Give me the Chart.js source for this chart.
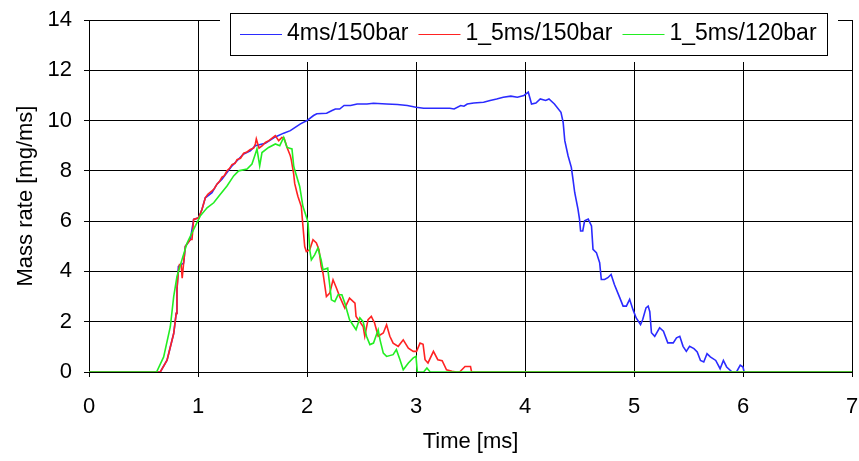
<!DOCTYPE html>
<html lang="en">
<head>
  <meta charset="UTF-8" />
  <title>Mass rate</title>
  <script src="https://cdn.jsdelivr.net/npm/chart.js"></script>
  <style>
    html, body { margin: 0; padding: 0; background: #fff; }
    #wrap { width: 859px; height: 461px; }
  </style>
</head>
<body>
<div id="wrap"><canvas id="rateChart" width="859" height="461"></canvas></div>
<script>
  const seriesNames = ['4ms/150bar', '1_5ms/150bar', '1_5ms/120bar'];
  const seriesColors = ['#2b2bff', '#ff2222', '#22ee22'];
  const xTicks = [0, 1, 2, 3, 4, 5, 6, 7];
  const yTicks = [0, 2, 4, 6, 8, 10, 12, 14];

  // 4ms/150bar
  const blueTime = [0, 0.654, 0.716, 0.777, 0.80, 0.807, 0.82, 0.868, 0.884, 0.93, 0.96, 1.006, 1.037, 1.067, 1.128, 1.174, 1.22, 1.266, 1.312, 1.358, 1.419, 1.48, 1.526, 1.618, 1.709, 1.786, 1.847, 1.94, 2.0, 2.06, 2.09, 2.18, 2.23, 2.26, 2.30, 2.34, 2.40, 2.46, 2.55, 2.61, 2.73, 2.83, 2.92, 3.0, 3.07, 3.19, 3.31, 3.35, 3.41, 3.44, 3.47, 3.53, 3.62, 3.68, 3.74, 3.8, 3.87, 3.93, 3.99, 4.03, 4.045, 4.06, 4.10, 4.14, 4.19, 4.22, 4.27, 4.33, 4.35, 4.365, 4.395, 4.425, 4.44, 4.456, 4.486, 4.5, 4.51, 4.53, 4.547, 4.58, 4.61, 4.624, 4.655, 4.685, 4.7, 4.73, 4.76, 4.79, 4.82, 4.87, 4.9, 4.93, 4.96, 4.99, 5.02, 5.06, 5.08, 5.11, 5.13, 5.145, 5.16, 5.19, 5.235, 5.27, 5.31, 5.36, 5.39, 5.42, 5.45, 5.48, 5.51, 5.55, 5.58, 5.61, 5.64, 5.67, 5.70, 5.75, 5.79, 5.82, 5.85, 5.9, 5.94, 5.975, 6.0, 6.01, 7];
  const blueRate = [0, 0, 0.47, 1.53, 2.33, 3.27, 4.2, 4.33, 5.0, 5.27, 6.07, 6.13, 6.47, 6.93, 7.13, 7.47, 7.67, 7.93, 8.2, 8.4, 8.67, 8.8, 9.0, 9.1, 9.35, 9.5, 9.6, 9.87, 10.0, 10.2, 10.27, 10.29, 10.4, 10.46, 10.46, 10.6, 10.6, 10.66, 10.66, 10.69, 10.66, 10.64, 10.6, 10.53, 10.49, 10.49, 10.49, 10.46, 10.6, 10.57, 10.66, 10.7, 10.73, 10.8, 10.86, 10.93, 10.97, 10.93, 11.0, 11.13, 10.9, 10.66, 10.7, 10.86, 10.8, 10.86, 10.66, 10.33, 9.93, 9.2, 8.6, 8.14, 7.67, 7.14, 6.48, 6.08, 5.61, 5.61, 6.01, 6.08, 5.81, 4.88, 4.75, 4.35, 3.68, 3.68, 3.75, 3.88, 3.48, 2.95, 2.62, 2.62, 2.89, 2.49, 2.15, 1.89, 2.09, 2.55, 2.62, 2.4, 1.56, 1.42, 1.76, 1.62, 1.16, 1.16, 1.36, 1.42, 1.02, 0.82, 1.02, 0.93, 0.8, 0.46, 0.4, 0.73, 0.6, 0.46, 0.13, 0.46, 0.2, 0, 0, 0.27, 0.2, 0, 0];

  // 1_5ms/150bar
  const redTime = [0, 0.654, 0.716, 0.777, 0.80, 0.807, 0.82, 0.83, 0.845, 0.855, 0.868, 0.884, 0.93, 0.945, 0.96, 1.006, 1.037, 1.067, 1.09, 1.128, 1.15, 1.174, 1.2, 1.22, 1.24, 1.266, 1.29, 1.312, 1.34, 1.358, 1.39, 1.419, 1.45, 1.48, 1.51, 1.526, 1.535, 1.56, 1.59, 1.618, 1.65, 1.68, 1.709, 1.74, 1.77, 1.79, 1.817, 1.847, 1.856, 1.878, 1.887, 1.908, 1.917, 1.948, 1.963, 1.979, 1.994, 2.025, 2.055, 2.086, 2.11, 2.13, 2.147, 2.178, 2.209, 2.239, 2.27, 2.3, 2.347, 2.39, 2.44, 2.45, 2.515, 2.53, 2.56, 2.59, 2.62, 2.653, 2.7, 2.73, 2.76, 2.79, 2.837, 2.883, 2.93, 2.975, 3.005, 3.037, 3.065, 3.083, 3.11, 3.16, 3.2, 3.24, 3.28, 3.33, 3.37, 3.40, 3.45, 3.5, 3.51, 7];
  const redRate = [0, 0, 0.47, 1.53, 2.33, 3.27, 4.0, 4.27, 4.27, 3.73, 4.33, 5.0, 5.27, 5.27, 6.07, 6.13, 6.47, 6.93, 7.07, 7.2, 7.3, 7.47, 7.6, 7.75, 7.8, 8.0, 8.1, 8.25, 8.3, 8.45, 8.5, 8.7, 8.75, 8.85, 8.9, 9.07, 9.27, 8.9, 9.0, 9.13, 9.2, 9.3, 9.4, 9.2, 9.33, 9.3, 8.93, 8.6, 8.44, 7.87, 7.5, 7.13, 6.98, 6.58, 5.79, 4.99, 4.79, 4.86, 5.26, 5.13, 4.86, 4.2, 3.93, 3.0, 3.14, 3.67, 3.34, 3.0, 2.54, 2.94, 2.74, 2.21, 1.81, 1.42, 2.08, 2.21, 1.95, 1.42, 1.55, 1.88, 1.42, 1.15, 1.02, 1.28, 0.95, 0.82, 0.82, 1.15, 1.1, 0.49, 0.36, 0.82, 0.49, 0.45, 0.09, 0.03, 0, 0, 0.22, 0.22, 0, 0];

  // 1_5ms/120bar
  const greenTime = [0, 0.62, 0.685, 0.746, 0.777, 0.807, 0.853, 0.9, 0.96, 1.02, 1.083, 1.144, 1.205, 1.266, 1.327, 1.373, 1.45, 1.495, 1.526, 1.541, 1.566, 1.587, 1.648, 1.71, 1.75, 1.786, 1.817, 1.862, 1.878, 1.887, 1.933, 1.963, 2.0, 2.01, 2.025, 2.04, 2.07, 2.1, 2.13, 2.147, 2.19, 2.21, 2.224, 2.255, 2.285, 2.32, 2.347, 2.39, 2.42, 2.45, 2.485, 2.515, 2.546, 2.577, 2.61, 2.653, 2.67, 2.7, 2.73, 2.79, 2.82, 2.853, 2.883, 2.93, 2.975, 3.0, 3.012, 3.07, 3.1, 3.13, 7];
  const greenRate = [0, 0, 0.6, 1.8, 3.0, 3.8, 4.47, 5.13, 5.67, 6.2, 6.53, 6.73, 7.07, 7.4, 7.8, 8.0, 8.07, 8.27, 8.67, 8.87, 8.2, 8.73, 8.93, 9.07, 9.0, 9.33, 8.93, 8.87, 8.2, 8.04, 7.38, 6.58, 6.1, 5.92, 4.86, 4.46, 4.66, 4.93, 4.46, 4.07, 4.13, 3.4, 2.87, 2.8, 3.07, 3.07, 2.74, 2.08, 1.88, 1.68, 2.15, 2.0, 1.42, 1.09, 1.15, 1.68, 1.28, 0.75, 0.62, 0.69, 0.89, 0.49, 0.09, 0.36, 0.56, 0.62, 0, 0, 0.16, 0, 0];

  const toPoints = (xs, ys) => xs.map((x, i) => ({ x: x, y: ys[i] }));
  const allSeries = [
    toPoints(blueTime, blueRate),
    toPoints(redTime, redRate),
    toPoints(greenTime, greenRate)
  ];

  const textFont = '"Liberation Sans", Arial, sans-serif';

  // legend box sitting over the top of the plot, like the original
  const boxLegend = {
    id: 'boxLegend',
    afterDraw(chart) {
      const ctx = chart.ctx;
      ctx.save();
      ctx.fillStyle = '#fff';
      ctx.fillRect(220, 6, 618, 56);
      ctx.strokeStyle = '#000';
      ctx.lineWidth = 1;
      ctx.strokeRect(230.5, 13.5, 597, 42);
      ctx.font = '23px ' + textFont;
      ctx.textBaseline = 'middle';
      ctx.fillStyle = '#000';
      let x = 240;
      const y = 34;
      seriesNames.forEach((name, i) => {
        ctx.strokeStyle = seriesColors[i];
        ctx.lineWidth = 1.2;
        ctx.beginPath();
        ctx.moveTo(x, y + 0.5);
        ctx.lineTo(x + 42, y + 0.5);
        ctx.stroke();
        ctx.fillText(name, x + 47, y);
        x += 47 + ctx.measureText(name).width + 10;
      });
      ctx.restore();
    }
  };

  new Chart(document.getElementById('rateChart').getContext('2d'), {
    type: 'line',
    data: {
      datasets: allSeries.map((pts, i) => ({
        label: seriesNames[i],
        data: pts,
        borderColor: seriesColors[i],
        borderWidth: 1.6,
        pointRadius: 0,
        tension: 0,
        fill: false,
        order: 2 - i
      }))
    },
    options: {
      responsive: false,
      animation: false,
      layout: { padding: { top: 20, right: 7, left: 0, bottom: 0 } },
      plugins: {
        legend: { display: false },
        tooltip: { enabled: false }
      },
      scales: {
        x: {
          type: 'linear',
          min: 0,
          max: 7,
          afterFit: s => { s.height = 89; s.paddingLeft = 0; s.paddingRight = 0; },
          afterBuildTicks: s => { s.ticks = xTicks.map(v => ({ value: v })); },
          ticks: { color: '#000', padding: 17, font: { family: textFont, size: 22 } },
          grid: { color: '#000', lineWidth: 1, tickLength: 5 },
          border: { color: '#000' },
          title: {
            display: true,
            text: 'Time [ms]',
            color: '#000',
            font: { family: textFont, size: 22 },
            padding: { top: 0, bottom: 6 }
          }
        },
        y: {
          min: 0,
          max: 14,
          afterFit: s => { s.width = 89; s.paddingTop = 0; s.paddingBottom = 0; },
          afterBuildTicks: s => { s.ticks = yTicks.map(v => ({ value: v })); },
          ticks: { color: '#000', padding: 12, font: { family: textFont, size: 22 } },
          grid: { color: '#000', lineWidth: 1, tickLength: 5 },
          border: { color: '#000' },
          title: {
            display: true,
            text: 'Mass rate [mg/ms]',
            color: '#000',
            font: { family: textFont, size: 22 },
            padding: { top: 13, bottom: 0 }
          }
        }
      }
    },
    plugins: [boxLegend]
  });
</script>
</body>
</html>
